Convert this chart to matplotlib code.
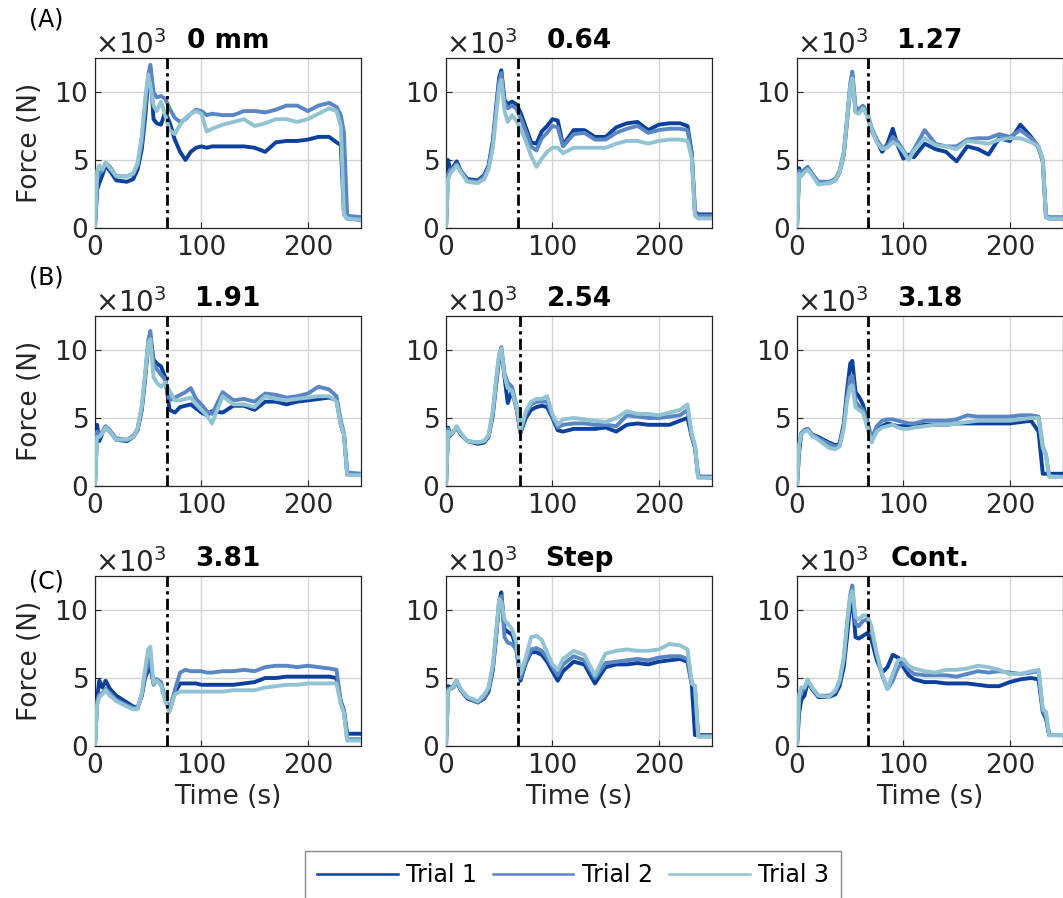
import matplotlib
matplotlib.use("Agg")
import matplotlib.pyplot as plt
from matplotlib.ticker import ScalarFormatter
from matplotlib.lines import Line2D

plt.rcParams['font.family'] = ['DejaVu Sans']

# ---------------- data ----------------
T = [0, 2, 4, 7, 10, 14, 20, 30, 36, 40, 44, 47, 50, 52, 55, 58, 62, 66, 70, 75, 80, 85, 90, 95,
     100, 105, 110, 120, 130, 140, 150, 160, 170, 180, 190, 200, 210, 220, 227, 231, 234, 237, 250]

titles = ["0 mm", "0.64", "1.27", "1.91", "2.54", "3.18", "3.81", "Step", "Cont."]
event_t = [67.5, 67.5, 67, 68, 70, 67, 68, 68, 67]
trial_names = ["Trial 1", "Trial 2", "Trial 3"]
colors = ["#0b419c", "#5a86c4", "#92c3d3"]

# forces in kN (x10^3 N)
F_0mm_T1 = [0, 2.8, 3.3, 3.9, 4.6, 4.2, 3.5, 3.4, 3.6, 4.3, 5.8, 8.0, 10.8, 11.8, 8.0, 7.7, 7.6, 8.5, 7.8, 6.5, 5.6, 5.0, 5.6, 5.9,
            6.0, 5.9, 6.0, 6.0, 6.0, 6.0, 5.9, 5.6, 6.3, 6.4, 6.4, 6.5, 6.7, 6.7, 6.3, 6.1, 1.0, 0.7, 0.6]
F_0mm_T2 = [0, 3.5, 4.0, 4.2, 4.8, 4.5, 3.8, 3.8, 4.0, 4.6, 6.3, 8.8, 11.2, 12.0, 10.0, 9.6, 9.7, 9.5, 8.8, 8.1, 7.8, 8.0, 8.4, 8.7,
            8.6, 8.3, 8.4, 8.3, 8.3, 8.6, 8.6, 8.5, 8.7, 9.0, 9.0, 8.6, 9.0, 9.2, 8.9, 8.3, 7.0, 0.9, 0.8]
F_0mm_T3 = [0, 4.2, 4.6, 4.3, 4.8, 4.4, 3.8, 3.8, 4.0, 4.8, 6.8, 9.4, 11.3, 10.5, 9.0, 8.6, 9.3, 8.3, 7.2, 6.9, 7.6, 8.1, 8.4, 8.6,
            8.4, 7.1, 7.3, 7.6, 7.8, 8.0, 7.5, 7.7, 8.0, 8.0, 7.8, 8.0, 8.4, 8.8, 8.6, 7.5, 1.0, 0.7, 0.6]

F_064_T1 = [0, 5.0, 4.2, 4.5, 4.9, 4.2, 3.6, 3.5, 3.9, 4.6, 6.4, 8.8, 11.1, 11.6, 9.4, 9.1, 9.3, 9.1, 8.5, 7.4, 6.3, 6.2, 7.1, 7.5,
            8.0, 7.9, 6.1, 7.2, 7.2, 6.7, 6.7, 7.4, 7.7, 7.8, 7.2, 7.6, 7.7, 7.7, 7.5, 5.5, 1.2, 1.0, 1.0]
F_064_T2 = [0, 4.0, 4.3, 4.4, 4.7, 4.2, 3.5, 3.4, 3.8, 4.5, 6.2, 8.6, 10.8, 11.4, 9.2, 8.8, 9.0, 8.8, 8.1, 7.1, 6.0, 5.7, 6.6, 7.0,
            7.5, 7.4, 6.0, 6.9, 7.0, 6.5, 6.5, 7.0, 7.3, 7.5, 7.0, 7.2, 7.3, 7.3, 7.2, 5.3, 1.1, 0.9, 0.9]
F_064_T3 = [0, 3.6, 4.0, 4.3, 4.6, 4.1, 3.4, 3.3, 3.6, 4.3, 5.9, 8.2, 10.4, 10.9, 8.6, 7.8, 8.3, 7.9, 7.3, 6.4, 5.3, 4.5, 5.1, 5.6,
            5.9, 5.9, 5.5, 5.9, 5.9, 5.9, 5.9, 6.2, 6.4, 6.4, 6.2, 6.4, 6.5, 6.5, 6.4, 5.1, 0.9, 0.7, 0.7]

F_127_T1 = [0, 4.4, 3.9, 4.2, 4.4, 4.0, 3.3, 3.3, 3.5, 4.1, 5.4, 7.8, 10.3, 11.2, 8.6, 8.5, 8.9, 8.3, 7.2, 6.4, 5.6, 6.2, 7.3, 6.0,
            5.1, 5.4, 5.2, 6.2, 5.8, 5.6, 4.9, 6.0, 5.8, 5.4, 6.6, 6.4, 7.6, 6.7, 5.9, 4.9, 0.8, 0.7, 0.7]
F_127_T2 = [0, 4.2, 4.0, 4.3, 4.5, 4.0, 3.4, 3.4, 3.6, 4.2, 5.6, 8.0, 10.6, 11.5, 8.9, 8.7, 9.0, 8.5, 7.4, 6.5, 5.9, 6.0, 6.7, 6.3,
            5.7, 5.1, 5.8, 7.2, 6.2, 6.0, 6.0, 6.5, 6.6, 6.6, 6.9, 6.7, 7.2, 6.6, 6.0, 5.0, 0.9, 0.8, 0.8]
F_127_T3 = [0, 4.0, 3.8, 4.1, 4.3, 3.9, 3.2, 3.3, 3.5, 4.1, 5.5, 7.9, 10.4, 11.0, 8.5, 8.4, 8.8, 8.3, 7.3, 6.3, 5.8, 5.9, 6.3, 6.1,
            5.6, 5.0, 5.7, 6.6, 6.1, 6.0, 5.8, 6.4, 6.3, 6.2, 6.5, 6.6, 6.6, 6.3, 6.0, 5.0, 0.8, 0.7, 0.7]

F_191_T1 = [0, 4.5, 3.3, 3.9, 4.3, 4.0, 3.4, 3.3, 3.6, 4.1, 5.6, 7.8, 10.3, 11.0, 9.3, 9.0, 8.8, 8.0, 5.6, 5.4, 5.8, 5.9, 6.0, 5.7,
            5.4, 5.2, 5.5, 5.4, 5.9, 5.9, 5.6, 6.2, 6.2, 6.0, 6.2, 6.3, 6.4, 6.5, 6.3, 4.5, 3.8, 0.9, 0.8]
F_191_T2 = [0, 4.0, 3.7, 4.0, 4.4, 4.1, 3.5, 3.4, 3.7, 4.2, 5.8, 8.0, 10.7, 11.4, 9.0, 8.6, 8.2, 7.8, 6.3, 6.5, 6.7, 6.9, 7.2, 6.4,
            6.0, 5.5, 5.3, 6.9, 6.3, 6.4, 6.2, 6.8, 6.7, 6.5, 6.6, 6.8, 7.3, 7.1, 6.6, 4.8, 3.9, 1.0, 0.9]
F_191_T3 = [0, 3.6, 3.6, 3.9, 4.3, 4.0, 3.4, 3.4, 3.6, 4.2, 5.9, 8.2, 10.5, 10.8, 8.0, 7.6, 7.3, 7.6, 7.0, 6.3, 6.3, 6.4, 6.5, 6.0,
            5.6, 5.2, 4.6, 6.6, 6.0, 6.0, 5.8, 6.6, 6.4, 6.3, 6.4, 6.5, 6.6, 6.6, 6.2, 4.5, 3.8, 0.8, 0.8]

F_254_T1 = [0, 4.3, 3.7, 4.0, 4.3, 3.8, 3.3, 3.1, 3.2, 3.6, 5.2, 7.4, 9.4, 10.0, 8.0, 6.1, 7.0, 5.8, 3.9, 5.0, 5.6, 5.8, 5.9, 5.8,
            5.0, 4.1, 4.0, 4.2, 4.2, 4.2, 4.3, 4.0, 4.5, 4.6, 4.5, 4.5, 4.5, 4.8, 5.0, 3.6, 2.8, 0.7, 0.6]
F_254_T2 = [0, 4.2, 3.7, 4.0, 4.3, 3.8, 3.3, 3.2, 3.3, 3.7, 5.4, 7.6, 9.6, 10.2, 8.3, 7.6, 7.3, 6.0, 4.0, 5.3, 6.0, 6.2, 6.2, 6.2,
            5.1, 4.3, 4.5, 4.6, 4.6, 4.5, 4.5, 4.4, 5.2, 5.1, 5.0, 5.0, 5.1, 5.2, 5.6, 3.7, 2.9, 0.7, 0.7]
F_254_T3 = [0, 4.0, 3.8, 4.0, 4.4, 3.9, 3.3, 3.2, 3.3, 3.7, 5.5, 7.8, 9.8, 10.1, 8.1, 7.2, 7.0, 5.9, 4.1, 5.5, 6.2, 6.4, 6.4, 6.6,
            5.3, 4.5, 4.9, 5.0, 4.9, 4.8, 4.7, 5.0, 5.5, 5.3, 5.3, 5.2, 5.4, 5.6, 6.0, 3.8, 3.0, 0.6, 0.6]

F_318_T1 = [0, 2.5, 3.8, 4.1, 4.2, 3.8, 3.6, 3.2, 3.0, 3.1, 4.6, 7.0, 9.0, 9.2, 6.9, 6.6, 6.0, 4.8, 3.4, 4.1, 4.4, 4.6, 4.5, 4.4,
            4.4, 4.4, 4.4, 4.5, 4.5, 4.5, 4.6, 4.6, 4.6, 4.6, 4.6, 4.6, 4.7, 4.8, 4.0, 0.9, 0.9, 0.9, 0.9]
F_318_T2 = [0, 3.0, 3.9, 4.1, 4.2, 3.8, 3.5, 3.1, 2.9, 3.0, 4.4, 6.5, 8.0, 8.1, 6.2, 5.9, 5.6, 4.7, 3.5, 4.4, 4.8, 4.9, 4.9, 4.8,
            4.7, 4.6, 4.6, 4.8, 4.8, 4.8, 4.9, 5.2, 5.1, 5.1, 5.1, 5.1, 5.2, 5.2, 5.1, 2.9, 2.3, 0.7, 0.7]
F_318_T3 = [0, 3.0, 3.8, 4.0, 4.1, 3.7, 3.4, 2.8, 2.7, 2.9, 4.2, 6.2, 7.3, 7.4, 5.8, 5.6, 5.4, 4.3, 3.2, 4.0, 4.3, 4.4, 4.5, 4.3,
            4.2, 4.2, 4.3, 4.4, 4.5, 4.5, 4.6, 4.7, 4.8, 4.8, 4.8, 4.8, 4.9, 5.0, 5.0, 2.8, 2.2, 0.7, 0.65]

F_381_T1 = [0, 3.5, 4.8, 4.3, 4.8, 4.2, 3.7, 3.2, 2.9, 2.8, 3.7, 5.0, 5.6, 5.8, 4.6, 4.9, 4.6, 3.4, 2.6, 3.9, 4.6, 4.6, 4.6, 4.6,
            4.5, 4.5, 4.5, 4.5, 4.5, 4.6, 4.7, 5.0, 5.0, 5.1, 5.1, 5.1, 5.1, 5.1, 5.0, 3.3, 2.6, 0.9, 0.9]
F_381_T2 = [0, 3.3, 3.8, 3.9, 4.2, 3.9, 3.4, 3.0, 2.8, 2.8, 3.8, 5.2, 6.2, 6.4, 4.5, 4.9, 4.7, 3.5, 2.6, 4.1, 5.4, 5.6, 5.5, 5.5,
            5.5, 5.4, 5.4, 5.5, 5.5, 5.6, 5.5, 5.8, 5.9, 5.9, 5.8, 5.9, 5.8, 5.7, 5.6, 3.2, 2.5, 0.5, 0.5]
F_381_T3 = [0, 3.0, 3.6, 3.8, 4.1, 3.7, 3.3, 2.9, 2.7, 2.7, 3.9, 5.6, 7.1, 7.3, 4.6, 4.8, 4.5, 3.3, 2.5, 3.8, 4.0, 4.0, 4.0, 4.0,
            4.0, 4.0, 4.0, 4.0, 4.1, 4.1, 4.1, 4.3, 4.4, 4.5, 4.5, 4.6, 4.6, 4.6, 4.6, 3.1, 2.4, 0.4, 0.4]

F_step_T1 = [0, 4.4, 4.3, 4.4, 4.8, 4.1, 3.5, 3.2, 3.5, 4.0, 5.6, 7.9, 10.6, 11.3, 8.6, 8.4, 8.2, 7.3, 4.8, 6.1, 6.9, 6.9, 6.7, 6.2,
             5.5, 4.8, 5.5, 6.2, 6.0, 4.6, 5.8, 6.0, 6.0, 6.1, 6.0, 6.2, 6.3, 6.4, 6.2, 4.5, 0.8, 0.8, 0.8]
F_step_T2 = [0, 4.2, 4.2, 4.3, 4.7, 4.1, 3.6, 3.2, 3.6, 4.2, 5.8, 8.1, 10.7, 11.0, 8.0, 7.6, 7.5, 7.1, 5.0, 6.2, 7.1, 7.2, 7.0, 6.5,
             5.8, 5.2, 6.0, 6.6, 6.3, 5.0, 6.1, 6.2, 6.3, 6.4, 6.3, 6.5, 6.6, 6.6, 6.4, 4.6, 4.4, 0.7, 0.7]
F_step_T3 = [0, 4.0, 4.2, 4.4, 4.8, 4.2, 3.6, 3.3, 3.8, 4.3, 6.0, 8.3, 10.8, 10.6, 9.3, 9.0, 8.6, 7.6, 5.3, 6.5, 8.0, 8.1, 7.8, 6.9,
             6.0, 5.6, 6.4, 7.0, 6.7, 5.2, 6.8, 7.0, 7.1, 7.0, 7.0, 7.1, 7.5, 7.4, 7.1, 4.6, 4.4, 0.7, 0.7]

F_cont_T1 = [0, 2.4, 3.4, 3.7, 4.7, 4.2, 3.6, 3.6, 3.8, 4.4, 5.8, 8.0, 10.3, 11.0, 8.0, 7.9, 8.1, 8.3, 7.8, 6.3, 5.4, 5.8, 6.7, 6.5,
             5.8, 5.2, 4.9, 4.7, 4.7, 4.6, 4.6, 4.6, 4.5, 4.4, 4.4, 4.7, 4.9, 5.0, 4.9, 2.5, 2.0, 0.8, 0.8]
F_cont_T2 = [0, 3.4, 4.0, 4.2, 4.8, 4.3, 3.7, 3.7, 4.0, 4.7, 6.4, 8.9, 11.1, 11.8, 9.0, 8.8, 9.2, 9.3, 8.5, 6.7, 5.2, 4.2, 4.8, 5.8,
             6.1, 5.6, 5.3, 5.2, 5.2, 5.2, 5.1, 5.3, 5.5, 5.4, 5.5, 5.4, 5.3, 5.4, 5.5, 2.6, 2.2, 0.8, 0.8]
F_cont_T3 = [0, 3.8, 4.3, 4.3, 4.9, 4.3, 3.7, 3.6, 4.1, 4.8, 6.5, 9.0, 11.0, 11.4, 9.5, 9.3, 9.6, 9.6, 8.8, 6.8, 5.3, 4.2, 5.3, 6.3,
             6.4, 5.9, 5.7, 5.5, 5.4, 5.6, 5.6, 5.7, 5.9, 5.8, 5.6, 5.3, 5.3, 5.5, 5.6, 2.7, 2.5, 0.8, 0.8]

panels = [
    [F_0mm_T1, F_0mm_T2, F_0mm_T3],
    [F_064_T1, F_064_T2, F_064_T3],
    [F_127_T1, F_127_T2, F_127_T3],
    [F_191_T1, F_191_T2, F_191_T3],
    [F_254_T1, F_254_T2, F_254_T3],
    [F_318_T1, F_318_T2, F_318_T3],
    [F_381_T1, F_381_T2, F_381_T3],
    [F_step_T1, F_step_T2, F_step_T3],
    [F_cont_T1, F_cont_T2, F_cont_T3],
]
row_labels = ["(A)", "(B)", "(C)"]

# ---------------- figure ----------------
W, H = 1063, 898
fig = plt.figure(figsize=(W / 100, H / 100), dpi=100)

col_left = [95, 446, 797]
row_top = [58, 316, 576]
ax_w, ax_h = 266, 170
axcol = '#262626'

for i in range(9):
    r, c = divmod(i, 3)
    ax = fig.add_axes([col_left[c] / W, 1 - (row_top[r] + ax_h) / H, ax_w / W, ax_h / H])
    for k in range(3):
        ax.plot(T, [v * 1000 for v in panels[i][k]], color=colors[k], lw=2.8,
                solid_joinstyle='round', zorder=2 + k)
    ax.axvline(event_t[i], color='black', lw=2.0, ls=(0, (4, 1.5, 1.2, 1.5)), zorder=6)
    ax.set_xlim(0, 250)
    ax.set_ylim(0, 12500)
    ax.set_xticks([0, 100, 200])
    ax.set_yticks([0, 5000, 10000])
    fmt = ScalarFormatter(useMathText=True)
    fmt.set_powerlimits((3, 3))
    ax.yaxis.set_major_formatter(fmt)
    off = ax.yaxis.get_offset_text()
    off.set_fontsize(20)
    off.set_color('#505050')
    ax.grid(True, color='#d4d4d4', lw=1.0, zorder=0)
    ax.set_axisbelow(True)
    ax.tick_params(direction='in', length=4, width=0.8, colors=axcol, labelsize=19,
                   top=False, right=False, pad=5)
    for s in ax.spines.values():
        s.set_color(axcol)
        s.set_linewidth(0.9)
    ax.set_title(titles[i], fontsize=19, fontweight='bold', pad=7)
    if c == 0:
        ax.set_ylabel("Force (N)", fontsize=19, color=axcol, labelpad=8)
    if r == 2:
        ax.set_xlabel("Time (s)", fontsize=19, color=axcol, labelpad=4)

for r in range(3):
    ypos = [20, 278, 582][r]
    fig.text(29 / W, 1 - ypos / H, row_labels[r], fontsize=17, va='center', ha='left')

handles = [Line2D([], [], color=colors[k], lw=1.8) for k in range(3)]
leg = fig.legend(handles, trial_names, loc='upper center', bbox_to_anchor=(573 / W, 1 - 851 / H),
                 ncol=3, fontsize=17, frameon=True, fancybox=False, handlelength=3.4,
                 handletextpad=0.35, columnspacing=0.7, borderpad=0.5, borderaxespad=0)
leg.get_frame().set_edgecolor('#6e6e6e')
leg.get_frame().set_linewidth(1.0)

fig.savefig("out.png", dpi=100)
